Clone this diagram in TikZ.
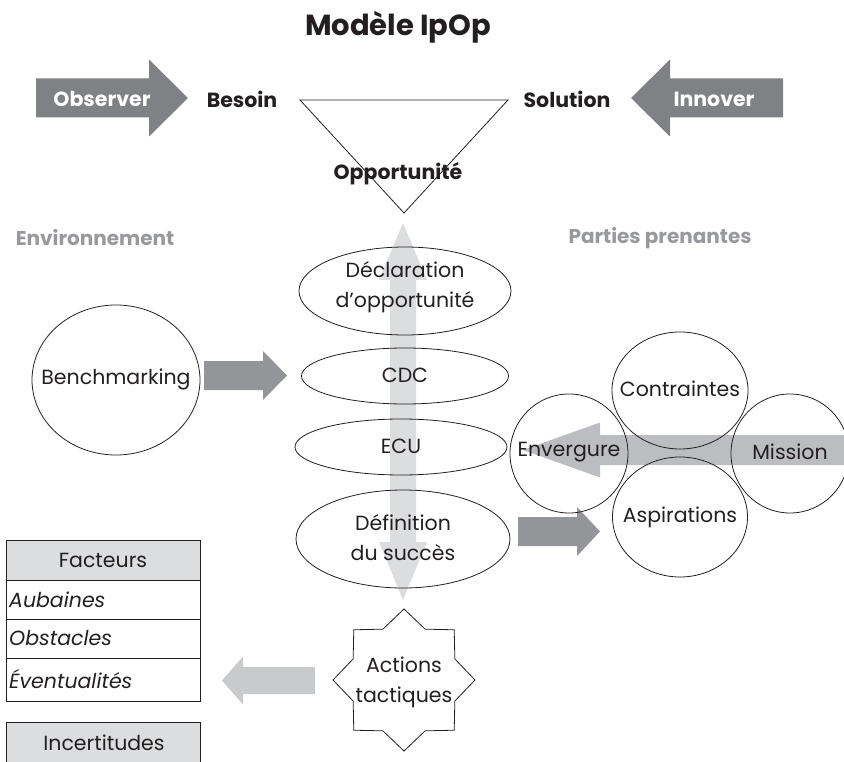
\documentclass[tikz,border=0pt]{standalone}
\usepackage{fontspec}
\setmainfont{Poppins}
\usetikzlibrary{shapes.geometric}
\definecolor{ink}{HTML}{231F20}
\definecolor{darkarrow}{HTML}{808184}
\definecolor{midarrow}{HTML}{939598}
\definecolor{lightarrow}{HTML}{BCBDC0}
\definecolor{softarrow}{HTML}{C9CACC}
\definecolor{palearrow}{HTML}{DCDDDF}
\definecolor{labelgray}{HTML}{98999C}
\definecolor{headfill}{HTML}{DCDDDE}
% horizontal block arrow: colour, x start, x tip, y middle, body half, head half, head length (signed)
\newcommand{\blkarrow}[7]{%
  \fill[#1] ({#2},{#4-#5}) -- ({#3-#7},{#4-#5}) -- ({#3-#7},{#4-#6}) -- ({#3},{#4})
    -- ({#3-#7},{#4+#6}) -- ({#3-#7},{#4+#5}) -- ({#2},{#4+#5}) -- cycle;}
\tikzset{
  body/.style={font=\fontsize{20.5}{30}\selectfont, text=ink, align=center, inner sep=0pt},
  itbody/.style={body, anchor=west, font=\itshape\fontsize{20.5}{30}\selectfont},
  boldlbl/.style={font=\bfseries\fontsize{20.5}{24}\selectfont, inner sep=0pt},
  shell/.style={draw=ink, line width=0.8pt, ellipse, inner sep=0pt},
  tablebox/.style={draw=ink, line width=0.8pt},
}
\begin{document}
\begin{tikzpicture}[x=1pt,y=-1pt]
\useasboundingbox (0,0) rectangle (844,762);

% title
\node[font=\bfseries\fontsize{29}{34}\selectfont, text=ink, inner sep=0pt] (title) at (398,27) {Modèle IpOp};

% top arrows
\blkarrow{darkarrow}{36}{188}{98}{19.5}{38.5}{39}
\node[boldlbl, text=white] (observer) at (102,99) {Observer};
\blkarrow{darkarrow}{783}{631}{98}{19.5}{38.5}{-39}
\node[boldlbl, text=white] (innover) at (714,99) {Innover};

\node[boldlbl, text=ink] (besoin) at (242,99) {Besoin};
\node[boldlbl, text=ink] (solution) at (567,99) {Solution};

% triangle
\coordinate (tl) at (300,100);
\coordinate (tr) at (508,100);
\coordinate (tb) at (404,213);
\draw[ink, line width=0.8pt] (tl) -- (tr) -- (tb) -- cycle;
\node[boldlbl, text=ink] (opport) at (398,174) {Opportunité};

% section labels
\node[boldlbl, text=labelgray, font=\bfseries\fontsize{20}{24}\selectfont] (env) at (95,238) {Environnement};
\node[boldlbl, text=labelgray, font=\bfseries\fontsize{20}{24}\selectfont] (parties) at (660,238) {Parties prenantes};

% vertical double arrow
\fill[palearrow] (403,223) -- (427,280) -- (416,280) -- (416,542) -- (427,542) -- (403,600)
  -- (379,542) -- (390,542) -- (390,280) -- (379,280) -- cycle;

% horizontal arrows
\blkarrow{midarrow}{204}{287}{375.5}{14.5}{24.5}{24}
\blkarrow{midarrow}{518}{600}{531.5}{14.5}{24.5}{23}
\blkarrow{lightarrow}{844}{523}{450}{15}{27.5}{-77}
\blkarrow{softarrow}{315}{222}{680.5}{13.5}{24}{-21}

% central ellipses
\node[shell, minimum width=212pt, minimum height=88pt] (decl) at (405,291) {};
\node[body] (declT) at (405,287) {Déclaration\\d’opportunité};
\node[shell, minimum width=207pt, minimum height=56pt] (cdc) at (405,376) {};
\node[body] (cdcT) at (405,375) {CDC};
\node[shell, minimum width=212pt, minimum height=56pt] (ecu) at (401,447) {};
\node[body] (ecuT) at (401,446) {ECU};
\node[shell, minimum width=214pt, minimum height=98pt] (defin) at (403,539) {};
\node[body] (definT) at (403,538) {Définition\\du succès};

% benchmarking
\node[shell, minimum width=168pt, minimum height=150pt] (bench) at (116,380) {};
\node[body] (benchT) at (116,379) {Benchmarking};

% stakeholder circles
\node[shell, minimum width=136pt, minimum height=117pt] (contr) at (680,390.5) {};
\node[body] (contrT) at (680,389) {Contraintes};
\node[shell, minimum width=135pt, minimum height=120pt] (aspir) at (680,517) {};
\node[body] (aspirT) at (680,517) {Aspirations};
\node[shell, minimum width=118pt, minimum height=119pt] (enverg) at (569,453.5) {};
\node[body] (envergT) at (569,452) {Envergure};
\node[shell, minimum width=118pt, minimum height=119pt] (mission) at (790,453.5) {};
\node[body] (missionT) at (790,452) {Mission};

% star
\node[draw=ink, line width=0.8pt, star, star points=8, star point ratio=1.29,
      minimum size=142pt, inner sep=0pt] (actions) at (404,680) {};
\node[body] (actionsT) at (404,682) {Actions\\tactiques};

% factor table
\fill[headfill] (6,540) rectangle (200,580);
\draw[tablebox] (6,540) rectangle (200,701);
\draw[tablebox] (6,580) -- (200,580);
\draw[tablebox] (6,619) -- (200,619);
\draw[tablebox] (6,658) -- (200,658);
\node[body] (facteurs) at (103,560) {Facteurs};
\node[itbody] (aubaines) at (9,600) {Aubaines};
\node[itbody] (obstacles) at (9,638.5) {Obstacles};
\node[itbody] (eventual) at (9,679) {Éventualités};

\fill[headfill] (6,722) rectangle (200,762);
\draw[tablebox] (6,762) -- (6,722) -- (200,722) -- (200,762);
\node[body] (incert) at (104,743) {Incertitudes};
\end{tikzpicture}
\end{document}
